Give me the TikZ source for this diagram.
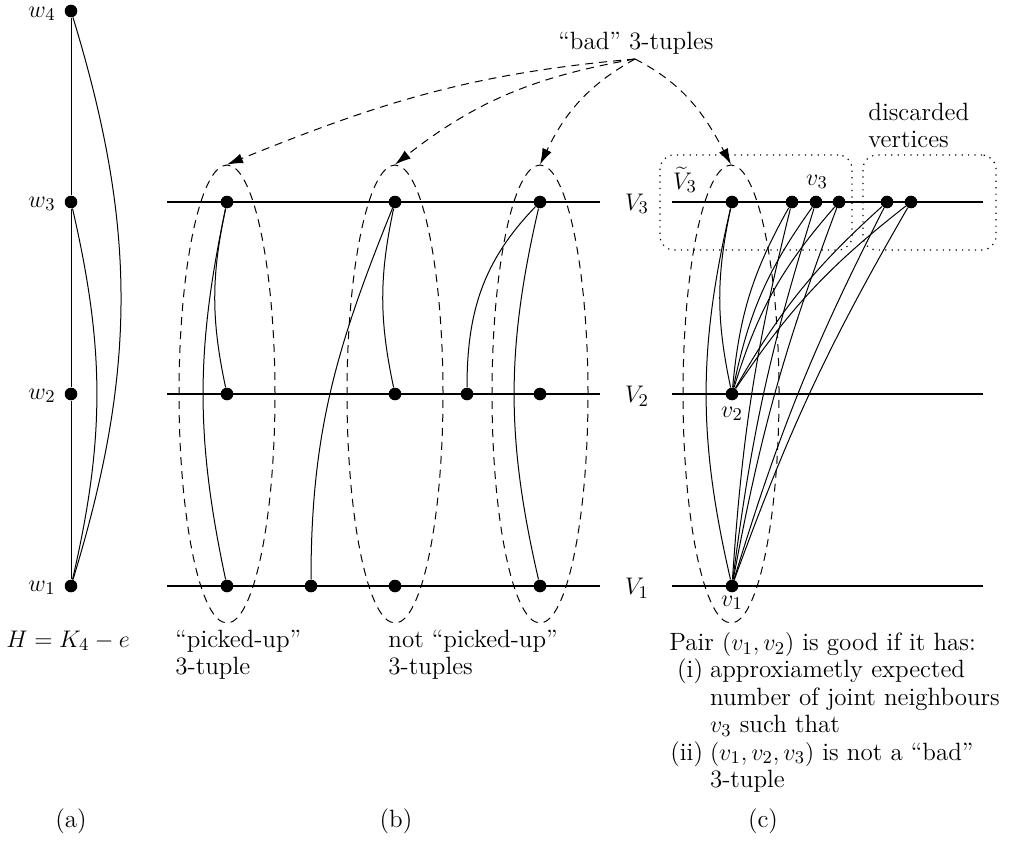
\documentclass[tikz,border=0pt]{standalone}
\usetikzlibrary{arrows.meta,shapes.geometric}
\newcommand{\lines}[1]{\begin{tabular}{@{}l@{}}#1\end{tabular}}
\begin{document}
\begin{tikzpicture}[x=0.5pt,y=0.5pt,
 vtx/.style={circle,fill,inner sep=0pt,minimum size=6.3pt},
 lbl/.style={font=\fontsize{12.5}{13.7}\selectfont, inner sep=0pt},
 part/.style={line width=1.2pt},
 edge/.style={line width=0.5pt},
 tuple/.style={draw, ellipse, dash pattern=on 4pt off 3pt, line width=0.5pt, minimum width=48pt, minimum height=229pt, inner sep=0pt},
 pointer/.style={-{Latex[length=8pt,width=5pt]}, dash pattern=on 4pt off 3pt, line width=0.5pt},
 setbox/.style={draw, rounded corners=7pt, dash pattern=on 0.6pt off 2.6pt, line width=0.6pt, minimum height=47.5pt, inner sep=0pt}
]
\useasboundingbox (0,0) rectangle (1010,-861);

% ---------------- (a) ----------------
\node[vtx] (w4) at (71,-11) {};
\node[vtx] (w3) at (71,-202) {};
\node[vtx] (w2) at (71,-394) {};
\node[vtx] (w1) at (71,-586) {};
\node[lbl] (lw4) at (42,-14) {$w_4$};
\node[lbl] (lw3) at (42,-204) {$w_3$};
\node[lbl] (lw2) at (42,-396) {$w_2$};
\node[lbl] (lw1) at (42,-588) {$w_1$};
\draw[edge] (w4) -- (w3) -- (w2) -- (w1);
\draw[edge] (w3) to[bend left=13] (w1);
\draw[edge] (w4) to[bend left=17] (w1);
\node[lbl, anchor=base] (Hlbl) at (68,-647) {$H=K_4-e$};
\node[lbl] (capa) at (71,-821) {(a)};

% ---------------- (b) ----------------
\coordinate (b3l) at (167,-202); \coordinate (b3r) at (600,-202);
\coordinate (b2l) at (167,-394); \coordinate (b2r) at (600,-394);
\coordinate (b1l) at (167,-586); \coordinate (b1r) at (600,-586);
\draw[part] (b3l) -- (b3r);
\draw[part] (b2l) -- (b2r);
\draw[part] (b1l) -- (b1r);

\node[tuple] (E1) at (227,-394) {};
\node[tuple] (E2) at (395,-394) {};
\node[tuple] (E3) at (540,-394) {};

\node[vtx] (b31) at (227,-202) {};
\node[vtx] (b32) at (395,-202) {};
\node[vtx] (b33) at (540,-202) {};
\node[vtx] (b21) at (227,-394) {};
\node[vtx] (b22) at (395,-394) {};
\node[vtx] (b23) at (467,-394) {};
\node[vtx] (b24) at (540,-394) {};
\node[vtx] (b11) at (227,-586) {};
\node[vtx] (b12) at (311,-586) {};
\node[vtx] (b13) at (395,-586) {};
\node[vtx] (b14) at (540,-586) {};

\draw[edge] (b31) to[bend right=12] (b21);
\draw[edge] (b31) to[bend right=12] (b11);
\draw[edge] (b32) to[bend right=12] (b22);
\draw[edge] (b32) to[out=-112,in=90] (b12);
\draw[edge] (b33) to[out=226,in=90] (b23);
\draw[edge] (b33) to[bend right=13] (b14);

\node[lbl, anchor=north west] (pick) at (175,-628) {\lines{``picked-up''\\3-tuple}};
\node[lbl, anchor=north west] (notpick) at (388,-628) {\lines{not ``picked-up''\\3-tuples}};
\node[lbl] (capb) at (396,-821) {(b)};

% ---------------- (c) ----------------
\coordinate (c3l) at (672,-202); \coordinate (c3r) at (983,-202);
\coordinate (c2l) at (672,-394); \coordinate (c2r) at (983,-394);
\coordinate (c1l) at (672,-586); \coordinate (c1r) at (983,-586);
\draw[part] (c3l) -- (c3r);
\draw[part] (c2l) -- (c2r);
\draw[part] (c1l) -- (c1r);

\node[lbl] (V3) at (637,-204) {$V_3$};
\node[lbl] (V2) at (637,-396) {$V_2$};
\node[lbl] (V1) at (637,-588) {$V_1$};

\node[setbox, minimum width=96pt] (keep) at (756,-202.5) {};
\node[setbox, minimum width=66.5pt] (disc) at (929.5,-202.5) {};
\node[lbl] (Vt) at (685,-180) {$\widetilde{V}_3$};
\node[lbl] (v3l) at (817,-182) {$v_3$};
\node[lbl, anchor=north west] (disclbl) at (868,-101) {\lines{discarded\\vertices}};

\node[tuple] (E4) at (731,-394) {};

\node[vtx] (c1) at (732,-202) {};
\node[vtx] (c2) at (792,-202) {};
\node[vtx] (c3) at (816,-202) {};
\node[vtx] (c4) at (839,-202) {};
\node[vtx] (c5) at (887,-202) {};
\node[vtx] (c6) at (911,-202) {};
\node[vtx] (v2) at (732,-394) {};
\node[vtx] (v1) at (732,-586) {};
\node[lbl] (v2l) at (732,-414) {$v_2$};
\node[lbl] (v1l) at (732,-603) {$v_1$};

\draw[edge] (v2) to[bend left=12] (c1);
\draw[edge] (v1) to[bend left=13] (c1);
\foreach \t in {c2,c3,c4}{
  \draw[edge] (v2) to[bend left=12] (\t);
}
\foreach \t in {c5,c6}{
  \draw[edge] (v2) to[bend left=9] (\t);
}
\foreach \t in {c2,c3,c4,c5,c6}{
  \draw[edge] (v1) to[bend left=5] (\t);
}

\node[lbl, anchor=north west] (cond) at (669,-631) {%
\begin{tabular}{@{\hspace{0.5pt}}r@{\hspace{3.5pt}}l@{}}
\multicolumn{2}{@{}l@{}}{Pair $(v_1,v_2)$ is good if it has:}\\
(i) & approxiametly expected\\
 & number of joint neighbours\\
 & $v_3$ such that\\
(ii) & $(v_1,v_2,v_3)$ is not a ``bad''\\
 & 3-tuple
\end{tabular}};
\node[lbl] (capc) at (763,-821) {(c)};

% ---------------- bad 3-tuples ----------------
\node[lbl] (badlbl) at (636,-43) {``bad'' 3-tuples};
\coordinate (bad) at (635,-59);
\draw[pointer] (bad) to[out=185,in=22] (E1.north);
\draw[pointer] (bad) to[out=190,in=38] (E2.north);
\draw[pointer] (bad) to[out=209,in=64] (E3.north);
\draw[pointer] (bad) to[out=-27,in=118] (E4.north);
\end{tikzpicture}
\end{document}
